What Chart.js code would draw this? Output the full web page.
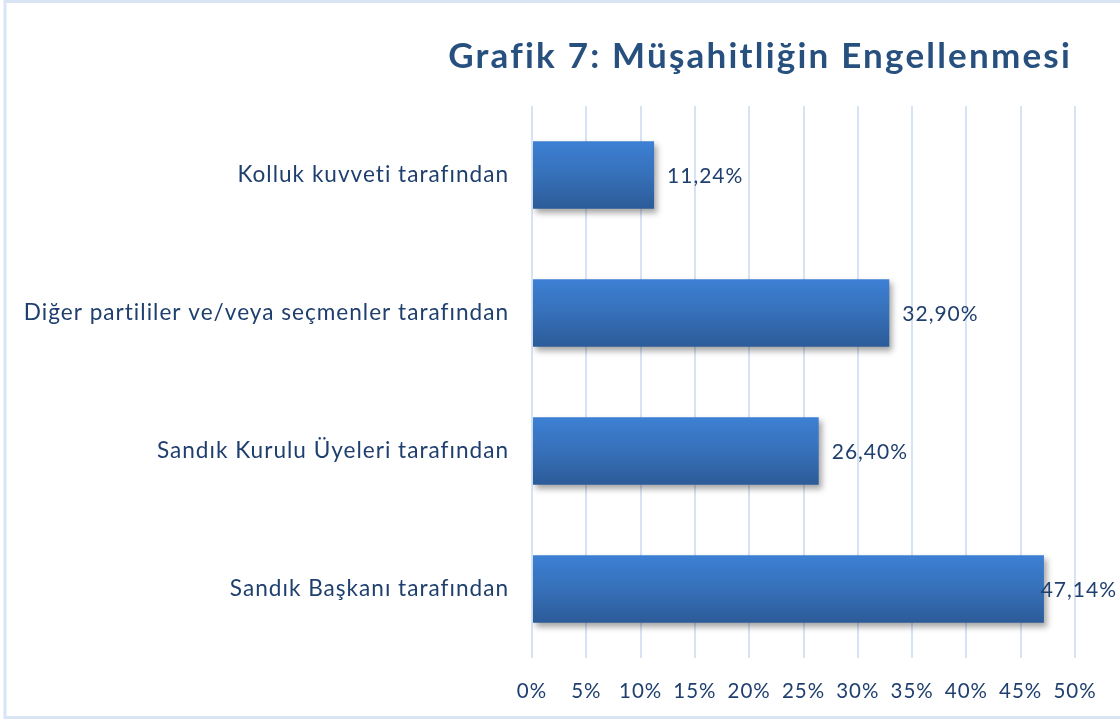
<!DOCTYPE html>
<html>
<head>
<meta charset="utf-8">
<script src="https://cdn.jsdelivr.net/npm/chart.js@4.4.0/dist/chart.umd.min.js"></script>
<style>
  html, body { margin: 0; padding: 0; background: #ffffff; }
  #wrap { width: 1120px; height: 722px; position: relative; }
</style>
</head>
<body>
<div id="wrap"><canvas id="c" width="1120" height="722"></canvas></div>
<script>
const titleText = "Grafik 7: Müşahitliğin Engellenmesi";
const categories = [
  "Kolluk kuvveti tarafından",
  "Diğer partililer ve/veya seçmenler tarafından",
  "Sandık Kurulu Üyeleri tarafından",
  "Sandık Başkanı tarafından"
];
const values = [11.24, 32.90, 26.40, 47.14];
const tickValues = [0, 5, 10, 15, 20, 25, 30, 35, 40, 45, 50];

const textColor = "#1f3f6e";
const fontFam = "Lato, 'Open Sans', 'DejaVu Sans', sans-serif";

const frameTitle = {
  id: "frameTitle",
  beforeDraw(chart) {
    const c = chart.ctx;
    c.save();
    c.fillStyle = "#ffffff";
    c.fillRect(0, 0, chart.width, chart.height);
    c.strokeStyle = "#d9e5f4";
    c.lineWidth = 3;
    c.strokeRect(5, 1.5, chart.width + 10, 716);
    c.restore();
    c.letterSpacing = "1px";
  },
  afterDraw(chart) {
    const c = chart.ctx;
    c.save();
    c.letterSpacing = "2.2px";
    c.font = "bold 35px " + fontFam;
    c.fillStyle = "#27507f";
    c.textAlign = "right";
    c.textBaseline = "middle";
    c.fillText(titleText, 1072, 57);
    c.restore();
  }
};

const barShadow = {
  id: "barShadow",
  beforeDatasetsDraw(chart) {
    const c = chart.ctx;
    c.save();
    c.shadowColor = "rgba(0,0,0,0.35)";
    c.shadowBlur = 6;
    c.shadowOffsetX = 3;
    c.shadowOffsetY = 4;
  },
  afterDatasetsDraw(chart) {
    chart.ctx.restore();
    const c = chart.ctx;
    const meta = chart.getDatasetMeta(0);
    c.save();
    c.letterSpacing = "1px";
    c.font = "21px " + fontFam;
    c.fillStyle = textColor;
    c.textBaseline = "middle";
    c.textAlign = "left";
    meta.data.forEach((bar, i) => {
      const txt = values[i].toFixed(2).replace(".", ",") + "%";
      const w = c.measureText(txt).width;
      let x = bar.x + 13;
      if (x + w > chart.width - 3) x = chart.width - 3 - w;
      c.fillText(txt, x, bar.y + 1);
    });
    c.restore();
  }
};

function barGradient(context) {
  const chart = context.chart;
  const y = chart.scales.y;
  if (!y || context.dataIndex === undefined) return "#3672bd";
  const cy = y.getPixelForValue(context.dataIndex);
  if (!isFinite(cy)) return "#3672bd";
  const g = chart.ctx.createLinearGradient(0, cy - 34, 0, cy + 34);
  g.addColorStop(0, "#3d80d4");
  g.addColorStop(0.5, "#3670b9");
  g.addColorStop(1, "#2c5b98");
  return g;
}

new Chart(document.getElementById("c"), {
  type: "bar",
  data: {
    labels: categories,
    datasets: [{
      data: values,
      backgroundColor: barGradient,
      borderWidth: 0,
      categoryPercentage: 1,
      barPercentage: 0.49
    }]
  },
  options: {
    indexAxis: "y",
    responsive: false,
    animation: false,
    devicePixelRatio: 1,
    layout: { padding: { top: 106, right: 45, bottom: 0, left: 0 } },
    plugins: { legend: { display: false }, tooltip: { enabled: false }, title: { display: false } },
    scales: {
      x: {
        min: 0, max: 50,
        afterBuildTicks(scale) { scale.ticks = tickValues.map(v => ({ value: v })); },
        afterFit(scale) { scale.height = 64; },
        grid: { color: "#d6e3f4", lineWidth: 2, drawTicks: false },
        border: { display: false },
        ticks: {
          padding: 21,
          color: textColor,
          font: { family: fontFam, size: 20.5 },
          callback: v => v + "%"
        }
      },
      y: {
        afterFit(scale) { scale.width = 532; },
        grid: { display: false, drawTicks: false },
        border: { display: false },
        ticks: {
          padding: 23,
          color: textColor,
          font: { family: fontFam, size: 22.6 }
        }
      }
    }
  },
  plugins: [frameTitle, barShadow]
});
</script>
</body>
</html>
